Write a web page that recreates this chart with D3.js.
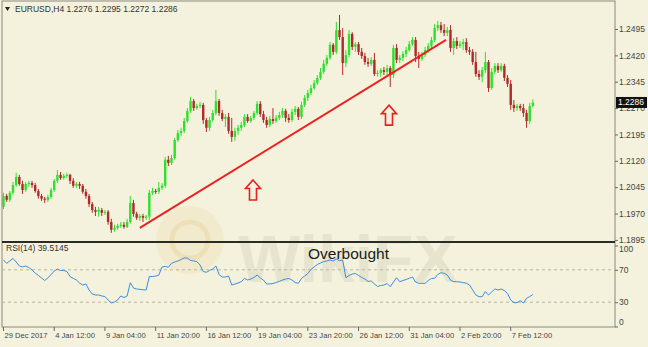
<!DOCTYPE html>
<html>
<head>
<meta charset="utf-8">
<script src="https://cdn.jsdelivr.net/npm/d3@7"></script>
<style>
  body { margin: 0; background: #f4f2dc; }
  text { font-family: "Liberation Sans", Arial, sans-serif; }
</style>
</head>
<body>
<div id="chart"></div>
<script>
// EURUSD H4 bars
var opens = [1.1989,1.2020,1.2009,1.2029,1.2051,1.2074,1.2054,1.2037,1.2054,1.2057,
  1.2051,1.2034,1.2020,1.2012,1.2009,1.2017,1.2037,1.2063,1.2080,1.2071,
  1.2077,1.2080,1.2063,1.2049,1.2054,1.2049,1.2032,1.2020,1.1997,1.1980,
  1.1975,1.1980,1.1972,1.1975,1.1946,1.1924,1.1929,1.1935,1.1938,1.1932,
  1.1946,1.2000,1.1969,1.1958,1.1963,1.1958,1.1961,1.2029,1.2034,1.2032,
  1.2043,1.2049,1.2123,1.2114,1.2128,1.2179,1.2199,1.2205,1.2233,1.2262,
  1.2290,1.2270,1.2276,1.2279,1.2236,1.2214,1.2236,1.2256,1.2290,1.2256,
  1.2239,1.2245,1.2205,1.2188,1.2205,1.2214,1.2222,1.2245,1.2233,1.2242,
  1.2256,1.2282,1.2253,1.2236,1.2222,1.2239,1.2233,1.2242,1.2250,1.2262,
  1.2242,1.2236,1.2259,1.2268,1.2245,1.2279,1.2299,1.2313,1.2327,1.2341,
  1.2356,1.2373,1.2396,1.2413,1.2450,1.2430,1.2492,1.2472,1.2398,1.2421,
  1.2481,1.2444,1.2452,1.2430,1.2418,1.2401,1.2396,1.2407,1.2367,1.2370,
  1.2378,1.2373,1.2384,1.2364,1.2441,1.2407,1.2413,1.2424,1.2435,1.2452,
  1.2464,1.2418,1.2410,1.2421,1.2435,1.2447,1.2464,1.2498,1.2506,1.2492,
  1.2484,1.2492,1.2441,1.2461,1.2447,1.2452,1.2458,1.2435,1.2430,1.2401,
  1.2367,1.2359,1.2378,1.2401,1.2327,1.2373,1.2390,1.2378,1.2390,1.2356,
  1.2339,1.2279,1.2270,1.2276,1.2270,1.2256,1.2233,1.2276];
var highs = [1.2029,1.2026,1.2034,1.2060,1.2086,1.2080,1.2063,1.2060,1.2063,1.2063,
  1.2057,1.2040,1.2026,1.2017,1.2023,1.2043,1.2068,1.2094,1.2088,1.2083,
  1.2086,1.2083,1.2071,1.2060,1.2060,1.2054,1.2040,1.2026,1.2003,1.1989,
  1.1989,1.1986,1.1980,1.1980,1.1955,1.1938,1.1941,1.1946,1.1946,1.1955,
  1.2020,1.2009,1.1975,1.1969,1.1969,1.1966,1.2037,1.2043,1.2040,1.2060,
  1.2057,1.2131,1.2134,1.2137,1.2185,1.2208,1.2214,1.2242,1.2270,1.2302,
  1.2296,1.2282,1.2288,1.2285,1.2242,1.2245,1.2265,1.2322,1.2296,1.2265,
  1.2253,1.2256,1.2242,1.2214,1.2222,1.2231,1.2253,1.2253,1.2248,1.2262,
  1.2290,1.2290,1.2262,1.2245,1.2248,1.2270,1.2250,1.2259,1.2270,1.2268,
  1.2253,1.2268,1.2276,1.2273,1.2288,1.2307,1.2322,1.2336,1.2350,1.2364,
  1.2384,1.2407,1.2421,1.2458,1.2455,1.2515,1.2535,1.2498,1.2435,1.2492,
  1.2486,1.2458,1.2458,1.2441,1.2427,1.2413,1.2415,1.2427,1.2378,1.2384,
  1.2387,1.2393,1.2390,1.2450,1.2452,1.2421,1.2432,1.2444,1.2461,1.2472,
  1.2472,1.2430,1.2430,1.2444,1.2455,1.2472,1.2509,1.2518,1.2515,1.2509,
  1.2501,1.2506,1.2469,1.2472,1.2461,1.2467,1.2469,1.2444,1.2438,1.2430,
  1.2378,1.2387,1.2430,1.2407,1.2384,1.2398,1.2398,1.2398,1.2396,1.2364,
  1.2350,1.2293,1.2282,1.2282,1.2282,1.2265,1.2285,1.2295];
var lows = [1.1983,1.2003,1.2003,1.2023,1.2046,1.2049,1.2026,1.2032,1.2046,1.2043,
  1.2029,1.2012,1.2006,1.2000,1.2003,1.2012,1.2032,1.2057,1.2066,1.2066,
  1.2071,1.2054,1.2043,1.2043,1.2040,1.2026,1.2012,1.1989,1.1972,1.1963,
  1.1961,1.1963,1.1966,1.1938,1.1915,1.1918,1.1924,1.1929,1.1927,1.1929,
  1.1941,1.1961,1.1952,1.1949,1.1946,1.1952,1.1952,1.2023,1.2026,1.2026,
  1.2037,1.2043,1.2105,1.2108,1.2123,1.2174,1.2191,1.2199,1.2228,1.2256,
  1.2262,1.2265,1.2270,1.2225,1.2202,1.2205,1.2231,1.2250,1.2248,1.2233,
  1.2216,1.2197,1.2174,1.2177,1.2194,1.2205,1.2216,1.2228,1.2228,1.2236,
  1.2250,1.2245,1.2228,1.2214,1.2216,1.2225,1.2228,1.2236,1.2242,1.2231,
  1.2228,1.2231,1.2250,1.2236,1.2239,1.2273,1.2290,1.2307,1.2322,1.2336,
  1.2350,1.2367,1.2390,1.2407,1.2421,1.2424,1.2464,1.2364,1.2387,1.2415,
  1.2435,1.2430,1.2421,1.2410,1.2393,1.2387,1.2390,1.2361,1.2359,1.2359,
  1.2364,1.2364,1.2330,1.2356,1.2398,1.2398,1.2404,1.2415,1.2430,1.2447,
  1.2401,1.2384,1.2404,1.2415,1.2427,1.2438,1.2458,1.2489,1.2484,1.2475,
  1.2475,1.2430,1.2421,1.2438,1.2441,1.2435,1.2427,1.2421,1.2393,1.2359,
  1.2350,1.2344,1.2370,1.2316,1.2322,1.2367,1.2370,1.2373,1.2347,1.2330,
  1.2265,1.2259,1.2262,1.2262,1.2245,1.2214,1.2225,1.2272];
var closes = [1.2020,1.2009,1.2029,1.2051,1.2074,1.2054,1.2037,1.2054,1.2057,1.2051,
  1.2034,1.2020,1.2012,1.2009,1.2017,1.2037,1.2063,1.2080,1.2071,1.2077,
  1.2080,1.2063,1.2049,1.2054,1.2049,1.2032,1.2020,1.1997,1.1980,1.1975,
  1.1980,1.1972,1.1975,1.1946,1.1924,1.1929,1.1935,1.1938,1.1932,1.1946,
  1.2000,1.1969,1.1958,1.1963,1.1958,1.1961,1.2029,1.2034,1.2032,1.2043,
  1.2049,1.2123,1.2114,1.2128,1.2179,1.2199,1.2205,1.2233,1.2262,1.2290,
  1.2270,1.2276,1.2279,1.2236,1.2214,1.2236,1.2256,1.2290,1.2256,1.2239,
  1.2245,1.2205,1.2188,1.2205,1.2214,1.2222,1.2245,1.2233,1.2242,1.2256,
  1.2282,1.2253,1.2236,1.2222,1.2239,1.2233,1.2242,1.2250,1.2262,1.2242,
  1.2236,1.2259,1.2268,1.2245,1.2279,1.2299,1.2313,1.2327,1.2341,1.2356,
  1.2373,1.2396,1.2413,1.2450,1.2430,1.2492,1.2472,1.2398,1.2421,1.2481,
  1.2444,1.2452,1.2430,1.2418,1.2401,1.2396,1.2407,1.2367,1.2370,1.2378,
  1.2373,1.2384,1.2364,1.2441,1.2407,1.2413,1.2424,1.2435,1.2452,1.2464,
  1.2418,1.2410,1.2421,1.2435,1.2447,1.2464,1.2498,1.2506,1.2492,1.2484,
  1.2492,1.2441,1.2461,1.2447,1.2452,1.2458,1.2435,1.2430,1.2401,1.2367,
  1.2359,1.2378,1.2401,1.2327,1.2373,1.2390,1.2378,1.2390,1.2356,1.2339,
  1.2279,1.2270,1.2276,1.2270,1.2256,1.2233,1.2276,1.2286];

// RSI(14) values
var rsi = [82.1,78.0,80.9,84.0,79.6,74.7,73.5,74.7,72.8,69.8,
  66.0,63.0,59.9,56.8,59.9,64.2,68.5,71.0,69.1,69.1,
  67.9,61.5,59.5,57.4,53.7,51.2,52.5,45.1,40.1,38.9,
  38.9,37.7,37.0,32.7,29.0,30.2,32.7,37.7,35.8,37.7,
  54.1,47.5,46.3,45.9,45.3,45.1,61.7,61.7,62.3,63.6,
  73.5,74.1,73.1,78.0,79.6,80.9,82.7,84.6,84.6,81.5,
  80.9,80.2,75.9,67.9,66.9,69.1,71.0,74.7,64.2,61.1,
  61.1,62.3,51.2,52.5,53.7,55.3,59.5,57.4,58.6,60.5,
  63.6,59.9,57.4,52.5,52.5,53.1,54.3,55.6,57.4,58.6,
  59.3,57.4,54.3,53.3,59.3,62.3,65.4,70.4,73.5,76.5,
  78.4,80.2,80.9,82.1,80.9,83.3,81.2,82.1,60.2,63.0,
  64.8,65.4,63.0,60.5,58.6,55.6,56.2,52.5,49.4,50.6,
  51.2,53.1,49.1,54.9,60.2,55.3,56.8,58.0,59.5,61.1,
  54.9,53.3,53.3,53.3,56.8,59.3,59.5,64.2,66.4,65.7,
  63.6,57.4,55.3,55.3,54.9,54.1,53.5,51.2,45.1,38.9,
  36.8,36.8,43.2,38.9,42.6,46.3,45.1,46.3,44.4,40.7,
  32.7,29.4,29.4,31.9,29.0,34.8,37.0,39.5145];

var priceTicks = [1.1895, 1.1970, 1.2045, 1.2120, 1.2195, 1.2270, 1.2345, 1.2420, 1.2495];
var rsiTicks = [0, 30, 70, 100];
var rsiLevels = [30, 70];
var dateIdx = [0, 16, 32, 48, 64, 80, 96, 112, 128, 144, 160];
var dateLabels = ["29 Dec 2017", "4 Jan 12:00", "9 Jan 04:00", "11 Jan 20:00", "16 Jan 12:00",
  "19 Jan 04:00", "23 Jan 20:00", "26 Jan 12:00", "31 Jan 04:00", "2 Feb 20:00", "7 Feb 12:00"];

// trend line (bar index, price) and the two up arrows
var trendIdx = [43, 139.6];
var trendPrice = [1.1929, 1.2464];
var arrowIdx = [78.7, 121.6];
var arrowPrice = [1.2037, 1.2250];

var width = 648, height = 347;
var plotLeft = 2, plotRight = 615;
var priceTop = 2, priceBottom = 242, rsiTop = 243, rsiBottom = 327;

var svg = d3.select("#chart")
  .append("svg")
    .attr("width", width)
    .attr("height", height)
    .style("display", "block");

svg.append("rect").attr("width", width).attr("height", height).attr("fill", "#f4f2dc");

// scales
var x = d3.scaleLinear().domain([0, 167]).range([3.5, 532.9]);
var y = d3.scaleLinear().domain([1.1889, 1.2569]).range([priceBottom, priceTop + 1]);
var yr = d3.scaleLinear().domain([0, 100]).range([326.5, 245.5]);

// watermark
var wm = svg.append("g").attr("opacity", 0.5);
wm.append("circle").attr("cx", 190).attr("cy", 240).attr("r", 34)
  .attr("fill", "#efd9a6").attr("opacity", 0.55);
wm.append("circle").attr("cx", 190).attr("cy", 240).attr("r", 18)
  .attr("fill", "none").attr("stroke", "#e3c27e").attr("stroke-width", 5).attr("opacity", 0.6);
wm.append("text").attr("x", 238).attr("y", 282)
  .attr("font-size", 66).attr("font-weight", "bold")
  .attr("fill", "#c9c4ae").attr("opacity", 0.55)
  .text("WikiFX");

// candles
var bars = d3.range(closes.length);
var candle = svg.append("g").selectAll("g").data(bars).enter().append("g");
function col(i) { return closes[i] >= opens[i] ? "#2fe02f" : "#b02a2a"; }
candle.append("line")
  .attr("x1", function(i) { return x(i); })
  .attr("x2", function(i) { return x(i); })
  .attr("y1", function(i) { return y(highs[i]); })
  .attr("y2", function(i) { return y(lows[i]); })
  .attr("stroke", col).attr("stroke-width", 1);
candle.append("rect")
  .attr("x", function(i) { return x(i) - 1.2; })
  .attr("width", 2.4)
  .attr("y", function(i) { return y(Math.max(opens[i], closes[i])); })
  .attr("height", function(i) { return Math.max(1, Math.abs(y(opens[i]) - y(closes[i]))); })
  .attr("fill", col);

// trend line
svg.append("line")
  .attr("x1", x(trendIdx[0])).attr("y1", y(trendPrice[0]))
  .attr("x2", x(trendIdx[1])).attr("y2", y(trendPrice[1]))
  .attr("stroke", "#ee2020").attr("stroke-width", 2);

// hollow up arrows
var arrowPath = "M0,-10 L7.5,-1.5 L3.5,-1.5 L3.5,10 L-3.5,10 L-3.5,-1.5 L-7.5,-1.5 Z";
svg.append("g").selectAll("path").data(arrowIdx).enter().append("path")
  .attr("transform", function(d, k) { return "translate(" + x(d) + "," + y(arrowPrice[k]) + ")"; })
  .attr("d", arrowPath)
  .attr("fill", "none").attr("stroke", "#e52222").attr("stroke-width", 1.6);

// frame and panel divider
svg.append("rect")
  .attr("x", plotLeft).attr("y", 1)
  .attr("width", plotRight - plotLeft).attr("height", rsiBottom - 1)
  .attr("fill", "none").attr("stroke", "#8a8a80").attr("stroke-width", 1);
svg.append("line")
  .attr("x1", plotLeft).attr("x2", plotRight)
  .attr("y1", priceBottom).attr("y2", priceBottom)
  .attr("stroke", "#2a2a2a").attr("stroke-width", 2);

// price axis
var pAxis = svg.append("g")
  .attr("transform", "translate(" + plotRight + ",0)")
  .call(d3.axisRight(y).tickValues(priceTicks).tickSize(3).tickSizeOuter(0)
    .tickFormat(d3.format(".4f")));
pAxis.select(".domain").remove();
pAxis.selectAll("line").attr("stroke", "#666");
pAxis.selectAll("text").attr("x", 4).attr("font-size", 8.5).attr("fill", "#444")
  .attr("font-family", "Liberation Sans, Arial, sans-serif");

// current price box
var last = closes[closes.length - 1];
svg.append("rect").attr("x", plotRight + 1).attr("y", y(last) - 5.5)
  .attr("width", 31).attr("height", 11).attr("fill", "#111");
svg.append("text").attr("x", plotRight + 3).attr("y", y(last) + 3)
  .attr("font-size", 8.5).attr("fill", "#fff").text(d3.format(".4f")(last));

// RSI levels
svg.append("g").selectAll("line").data(rsiLevels).enter().append("line")
  .attr("x1", plotLeft).attr("x2", plotRight)
  .attr("y1", function(d) { return yr(d); })
  .attr("y2", function(d) { return yr(d); })
  .attr("stroke", "#b8b6a4").attr("stroke-dasharray", "3,3").attr("stroke-width", 1);

// RSI line
svg.append("path")
  .datum(rsi)
  .attr("d", d3.line().x(function(d, i) { return x(i); }).y(function(d) { return yr(d); }))
  .attr("fill", "none").attr("stroke", "#3b8ee0").attr("stroke-width", 1);

// RSI axis
var rAxis = svg.append("g")
  .attr("transform", "translate(" + plotRight + ",0)")
  .call(d3.axisRight(yr).tickValues(rsiTicks).tickSize(3).tickSizeOuter(0));
rAxis.select(".domain").remove();
rAxis.selectAll("line").attr("stroke", "#666");
rAxis.selectAll("text").attr("x", 4).attr("font-size", 8.5).attr("fill", "#444")
  .attr("font-family", "Liberation Sans, Arial, sans-serif")
  .attr("dy", function(d) { return d === 100 ? "0.75em" : (d === 0 ? "-0.2em" : "0.32em"); });

// time axis
var tAxis = svg.append("g");
tAxis.selectAll("line").data(dateIdx).enter().append("line")
  .attr("x1", function(d) { return x(d); })
  .attr("x2", function(d) { return x(d); })
  .attr("y1", rsiBottom).attr("y2", rsiBottom + 4)
  .attr("stroke", "#666");
tAxis.selectAll("text").data(dateIdx).enter().append("text")
  .attr("x", function(d) { return x(d) + 1; })
  .attr("y", 338)
  .attr("font-size", 7.6).attr("fill", "#444")
  .text(function(d, k) { return dateLabels[k]; });

// titles
svg.append("path").attr("d", "M5,7 L10,7 L7.5,11 Z").attr("fill", "#222");
svg.append("text").attr("x", 15).attr("y", 12).attr("font-size", 8.5).attr("fill", "#333")
  .text("EURUSD,H4  " + [opens, highs, lows, closes].map(function(a) {
    return d3.format(".4f")(a[a.length - 1]); }).join(" "));
svg.append("text").attr("x", 6).attr("y", 251).attr("font-size", 8.5).attr("fill", "#333")
  .text("RSI(14) " + d3.format(".4f")(rsi[rsi.length - 1]));
svg.append("text").attr("x", 308).attr("y", 259).attr("font-size", 15.5).attr("fill", "#1a1a1a")
  .text("Overbought");
</script>
</body>
</html>
